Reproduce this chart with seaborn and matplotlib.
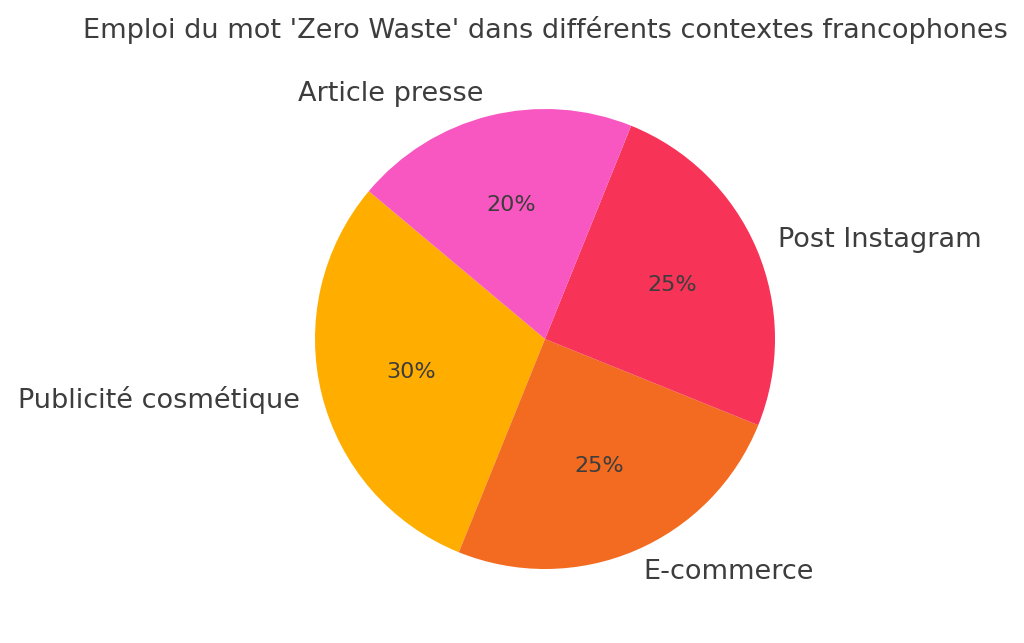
import matplotlib
matplotlib.use("Agg")
import matplotlib.pyplot as plt
import seaborn as sns

categories = ["Publicité cosmétique", "E-commerce", "Post Instagram", "Article presse"]
values = [30, 25, 25, 20]
colors = ["#FFAE00", "#F26B21", "#F73358", "#F857C1"]
title = "Emploi du mot 'Zero Waste' dans différents contextes francophones"

sns.set_theme(style="white")
plt.rcParams["font.family"] = ["DejaVu Sans"]
text_color = "#3d3d3d"

fig = plt.figure(figsize=(10.24, 6.43), dpi=100)
W, H = 1024, 643
cx, cy, r = 545, 643 - 339, 230
half = r * 1.25
ax = fig.add_axes([(cx - half) / W, (cy - half) / H, 2 * half / W, 2 * half / H])

wedges, texts, autotexts = ax.pie(
    values, labels=categories, colors=colors, startangle=140,
    autopct="%1.0f%%", labeldistance=1.1, pctdistance=0.6,
    textprops={"color": text_color},
    wedgeprops={"linewidth": 0, "edgecolor": "none"},
)
for t in texts:
    t.set_fontsize(19.5)
for t in autotexts:
    t.set_fontsize(16)
ax.set_aspect("equal")
fig.text(545 / W, 1 - 30 / H, title, ha="center", va="center",
         fontsize=19.5, color=text_color)

fig.savefig("out.png", dpi=100, facecolor="white")
